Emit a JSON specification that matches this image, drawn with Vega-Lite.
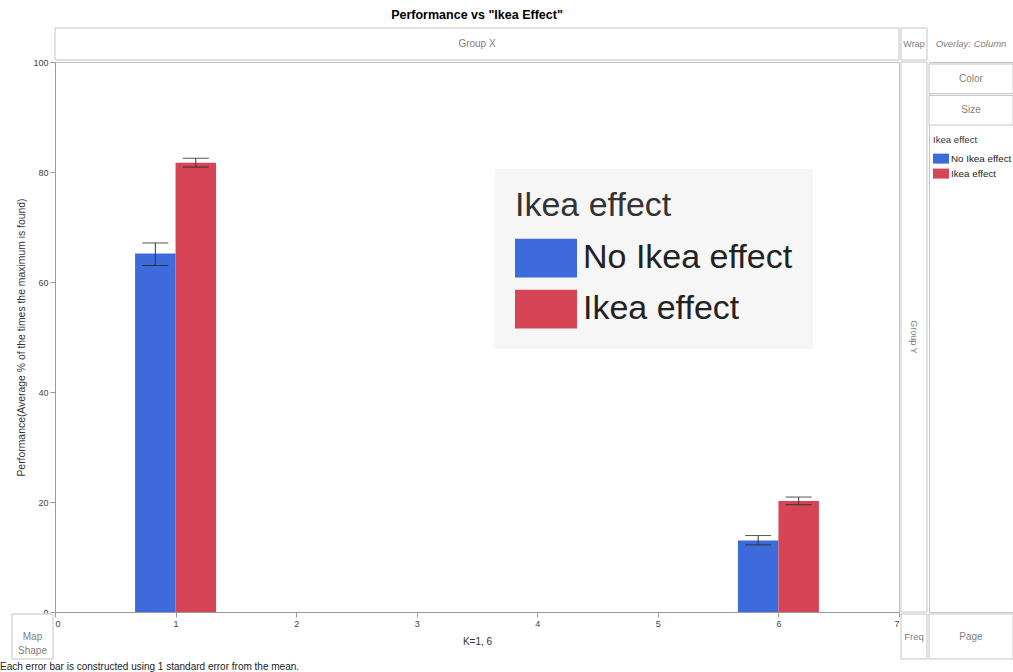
{
  "$schema": "https://vega.github.io/schema/vega-lite/v6.json",
  "background": "white",
  "padding": {"left": 0, "top": 9, "right": 0, "bottom": 0},
  "config": {
    "font": "Liberation Sans",
    "view": {"stroke": "#c4c4c4", "strokeWidth": 1},
    "axis": {"grid": false, "labelFontSize": 9, "labelColor": "#444", "tickColor": "#9a9a9a", "domainColor": "#9a9a9a", "tickSize": 5, "labelPadding": 2, "titleFontSize": 10.4, "titleFontWeight": "normal", "titleColor": "#333"},
    "text": {"color": "#808080", "fontSize": 10}
  },
  "title": {"text": "Each error bar is constructed using 1 standard error from the mean.", "orient": "bottom", "anchor": "start", "frame": "group", "dx": -12, "fontSize": 10, "fontWeight": "normal", "color": "#222", "offset": 2},
  "columns": 4,
  "spacing": 2,
  "bounds": "flush",
  "resolve": {"legend": {"color": "independent", "fill": "independent"}},
  "concat": [
    {"width": 41, "height": 32, "view": {"stroke": null}, "data": {"values": [{"t": ""}]}, "mark": "text", "encoding": {"text": {"field": "t"}}},
    {"width": 844, "height": 32, "title": {"text": "Performance vs \"Ikea Effect\"", "fontSize": 12.5, "fontWeight": "bold", "anchor": "middle", "offset": 6, "color": "#000"},
      "data": {"values": [{"t": "Group X"}]},
      "layer": [
        {"mark": {"type": "rect", "fill": "white", "stroke": "#c4c4c4"}, "encoding": {}},
        {"mark": {"type": "text"}, "encoding": {"text": {"field": "t"}}}
      ]},
    {"width": 26, "height": 32, "data": {"values": [{"t": "Wrap"}]},
      "layer": [
        {"mark": {"type": "rect", "fill": "white", "stroke": "#c4c4c4"}, "encoding": {}},
        {"mark": {"type": "text", "fontSize": 9}, "encoding": {"text": {"field": "t"}}}
      ]},
    {"width": 84, "height": 32, "view": {"stroke": null}, "data": {"values": [{"t": "Overlay: Column"}]}, "mark": {"type": "text", "fontStyle": "italic", "fontSize": 9.5}, "encoding": {"text": {"field": "t"}}},

    {"width": 41, "height": 550, "view": {"stroke": null}, "data": {"values": [{"t": ""}]}, "mark": "text", "encoding": {"text": {"field": "t"}}},
    {
      "width": 844,
      "height": 550,
      "data": {"values": [
        {"K": 1, "group": "No Ikea effect", "mean": 65.2, "lower": 63.0, "upper": 67.1},
        {"K": 1, "group": "Ikea effect", "mean": 81.7, "lower": 80.9, "upper": 82.5},
        {"K": 6, "group": "No Ikea effect", "mean": 13.0, "lower": 12.2, "upper": 13.9},
        {"K": 6, "group": "Ikea effect", "mean": 20.2, "lower": 19.5, "upper": 20.9}
      ]},
      "encoding": {
        "x": {"field": "K", "type": "quantitative", "title": "K=1, 6", "scale": {"domain": [0, 7], "nice": false, "zero": false, "padding": 0}, "axis": {"values": [0, 1, 2, 3, 4, 5, 6, 7], "titlePadding": 8, "titleFontSize": 10}}
      },
      "layer": [
        {
          "transform": [{"filter": "datum.group == 'No Ikea effect'"}],
          "mark": {"type": "bar", "orient": "vertical", "width": 40.5, "xOffset": -20.25},
          "encoding": {
            "y": {"field": "mean", "type": "quantitative", "title": "Performance(Average % of the times the maximum is found)", "scale": {"domain": [0, 100], "nice": false}, "axis": {"values": [0, 20, 40, 60, 80, 100], "titlePadding": 6}},
            "color": {"field": "group", "type": "nominal", "scale": {"domain": ["No Ikea effect", "Ikea effect"], "range": ["#3e6bdb", "#d54556"]},
              "legend": {"title": "Ikea effect", "orient": "none", "legendX": 878, "legendY": 73, "padding": 0, "titleFontSize": 9.6, "titleFontWeight": "normal", "titleColor": "#333", "titlePadding": 6, "labelFontSize": 9.8, "labelColor": "#222", "labelOffset": 2, "labelLimit": 200, "symbolType": "M-1,-0.625L1,-0.625L1,0.625L-1,0.625Z", "symbolSize": 256, "symbolStrokeWidth": 0, "rowPadding": 2}}
          }
        },
        {
          "transform": [{"filter": "datum.group == 'Ikea effect'"}],
          "mark": {"type": "bar", "orient": "vertical", "width": 40.5, "xOffset": 20.25},
          "encoding": {
            "y": {"field": "mean", "type": "quantitative", "title": "Performance(Average % of the times the maximum is found)"},
            "color": {"field": "group", "type": "nominal", "scale": {"domain": ["No Ikea effect", "Ikea effect"], "range": ["#3e6bdb", "#d54556"]}}
          }
        },
        {
          "transform": [{"filter": "datum.group == 'No Ikea effect'"}],
          "mark": {"type": "rule", "xOffset": -20.25, "color": "#333", "strokeWidth": 1},
          "encoding": {"y": {"field": "lower", "type": "quantitative", "title": "Performance(Average % of the times the maximum is found)"}, "y2": {"field": "upper"}}
        },
        {
          "transform": [{"filter": "datum.group == 'Ikea effect'"}],
          "mark": {"type": "rule", "xOffset": 20.25, "color": "#333", "strokeWidth": 1},
          "encoding": {"y": {"field": "lower", "type": "quantitative", "title": "Performance(Average % of the times the maximum is found)"}, "y2": {"field": "upper"}}
        },
        {
          "transform": [{"filter": "datum.group == 'No Ikea effect'"}],
          "mark": {"type": "tick", "orient": "horizontal", "size": 26, "thickness": 1, "xOffset": -20.25, "color": "#333", "opacity": 1},
          "encoding": {"y": {"field": "lower", "type": "quantitative", "title": "Performance(Average % of the times the maximum is found)"}}
        },
        {
          "transform": [{"filter": "datum.group == 'No Ikea effect'"}],
          "mark": {"type": "tick", "orient": "horizontal", "size": 26, "thickness": 1, "xOffset": -20.25, "color": "#555", "opacity": 1},
          "encoding": {"y": {"field": "upper", "type": "quantitative", "title": "Performance(Average % of the times the maximum is found)"}}
        },
        {
          "transform": [{"filter": "datum.group == 'Ikea effect'"}],
          "mark": {"type": "tick", "orient": "horizontal", "size": 26, "thickness": 1, "xOffset": 20.25, "color": "#333", "opacity": 1},
          "encoding": {"y": {"field": "lower", "type": "quantitative", "title": "Performance(Average % of the times the maximum is found)"}}
        },
        {
          "transform": [{"filter": "datum.group == 'Ikea effect'"}],
          "mark": {"type": "tick", "orient": "horizontal", "size": 26, "thickness": 1, "xOffset": 20.25, "color": "#555", "opacity": 1},
          "encoding": {"y": {"field": "upper", "type": "quantitative", "title": "Performance(Average % of the times the maximum is found)"}}
        },
        {
          "mark": {"type": "point", "filled": true, "opacity": 0, "size": 1},
          "encoding": {
            "y": {"field": "mean", "type": "quantitative", "title": "Performance(Average % of the times the maximum is found)"},
            "fill": {"field": "group", "type": "nominal", "sort": "descending", "scale": {"range": ["#3e6bdb", "#d54556"]},
              "legend": {"title": "Ikea effect", "orient": "none", "legendX": 440, "legendY": 107, "padding": 20, "fillColor": "#f6f6f6", "titleFontSize": 34, "titleFontWeight": "normal", "titleColor": "#333", "titlePadding": 4, "labelFontSize": 34, "labelColor": "#222", "labelOffset": 6, "labelLimit": 600, "symbolType": "M-1,-0.625L1,-0.625L1,0.625L-1,0.625Z", "symbolSize": 3844, "symbolStrokeWidth": 0, "symbolOpacity": 1, "rowPadding": 0}}
          }
        }
      ]
    },
    {"width": 26, "height": 550, "data": {"values": [{"t": "Group Y"}]},
      "layer": [
        {"mark": {"type": "rect", "fill": "white", "stroke": "#c4c4c4"}, "encoding": {}},
        {"mark": {"type": "text", "angle": 90, "fontSize": 9}, "encoding": {"text": {"field": "t"}}}
      ]},
    {"width": 84, "height": 550, "data": {"values": [{"t": "Color"}, {"t": "Size"}]},
      "encoding": {"y": {"field": "t", "type": "nominal", "axis": null, "scale": {"type": "band", "domain": ["Color", "Size"], "range": [2, 63], "paddingInner": 0.06, "paddingOuter": 0}}},
      "layer": [
        {"mark": {"type": "rect", "fill": "white", "stroke": "#c4c4c4"}},
        {"mark": {"type": "text"}, "encoding": {"text": {"field": "t"}}}
      ]},

    {"width": 41, "height": 45, "data": {"values": [{"t": "Map\nShape"}]},
      "layer": [
        {"mark": {"type": "rect", "fill": "white", "stroke": "#c4c4c4"}, "encoding": {}},
        {"mark": {"type": "text", "lineBreak": "\n", "lineHeight": 14}, "encoding": {"text": {"field": "t"}}}
      ]},
    {"width": 844, "height": 45, "view": {"stroke": null}, "data": {"values": [{"t": ""}]}, "mark": "text", "encoding": {"text": {"field": "t"}}},
    {"width": 26, "height": 45, "data": {"values": [{"t": "Freq"}]},
      "layer": [
        {"mark": {"type": "rect", "fill": "white", "stroke": "#c4c4c4"}, "encoding": {}},
        {"mark": {"type": "text", "fontSize": 9.5}, "encoding": {"text": {"field": "t"}}}
      ]},
    {"width": 84, "height": 45, "data": {"values": [{"t": "Page"}]},
      "layer": [
        {"mark": {"type": "rect", "fill": "white", "stroke": "#c4c4c4"}, "encoding": {}},
        {"mark": {"type": "text"}, "encoding": {"text": {"field": "t"}}}
      ]}
  ]
}
